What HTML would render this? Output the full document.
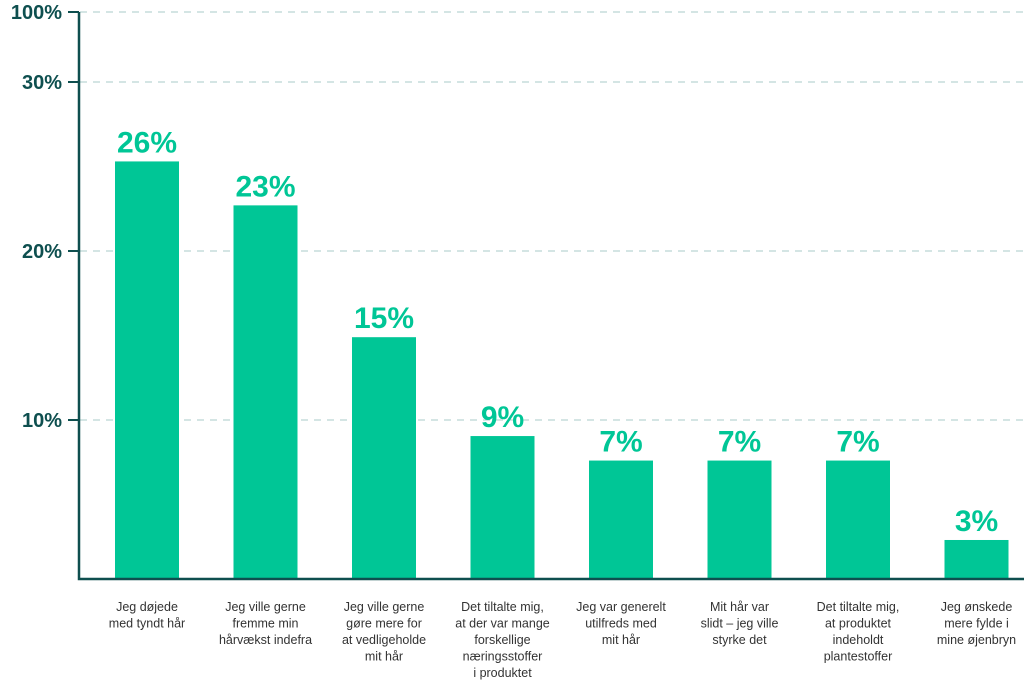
<!DOCTYPE html>
<html><head><meta charset="utf-8"><style>
body{margin:0;background:#fff;width:1024px;height:684px;overflow:hidden}
svg text{font-family:"Liberation Sans",sans-serif}
</style></head><body>
<svg id="c" width="1024" height="684"></svg>
<script>
const categories=[["Jeg døjede","med tyndt hår"],["Jeg ville gerne","fremme min","hårvækst indefra"],["Jeg ville gerne","gøre mere for","at vedligeholde","mit hår"],["Det tiltalte mig,","at der var mange","forskellige","næringsstoffer","i produktet"],["Jeg var generelt","utilfreds med","mit hår"],["Mit hår var","slidt – jeg ville","styrke det"],["Det tiltalte mig,","at produktet","indeholdt","plantestoffer"],["Jeg ønskede","mere fylde i","mine øjenbryn"]];
const values=[25.3,22.7,14.9,9.05,7.6,7.6,7.6,2.9];
const valueLabels=["26%","23%","15%","9%","7%","7%","7%","3%"];
const tickValues=[10,20,30,100];
const tickLabels=["10%","20%","30%","100%"];
const NS="http://www.w3.org/2000/svg";
const svg=document.getElementById('c');
function mk(t,a,p){const e=document.createElementNS(NS,t);for(const k in a)e.setAttribute(k,a[k]);(p||svg).appendChild(e);return e;}
const base=578;
function y(v){return v<=30?589-16.9*v:82-(v-30)*(70/70);}
function x(i){return 115+i*118.5;}
const bw=64;
tickValues.forEach((v,i)=>{
 const g=mk('line',{x1:80,x2:1024,y1:y(v),y2:y(v),stroke:'#a9cbc9','stroke-width':1,'stroke-dasharray':'7,6'});
 
 
 const tk=mk('line',{x1:68,x2:79,y1:y(v),y2:y(v),stroke:'#0e4f4f','stroke-width':2});
 
 
 const t=mk('text',{x:62,y:y(v)+7,'text-anchor':'end','font-size':20,'font-weight':'bold',fill:'#0e4f4f'});
 t.textContent=tickLabels[i];
 
 
});
values.forEach((v,i)=>{
 const top=y(v);
 const r=mk('rect',{x:x(i),y:top,width:bw,height:base-top,fill:'#00c696'});
 
 
 const t=mk('text',{x:x(i)+bw/2,y:top-9,'text-anchor':'middle','font-size':30,'font-weight':'bold',fill:'#00c696'});
 t.textContent=valueLabels[i];
 
 
 const c=mk('text',{'text-anchor':'middle','font-size':12.5,fill:'#333'});
 
 
 categories[i].forEach((l,j)=>{const s=mk('tspan',{x:x(i)+bw/2,y:611+j*16.5},c);s.textContent=l;});
});
const ax=mk('path',{d:'M79 12 V579 H1024',fill:'none',stroke:'#0e4f4f','stroke-width':2.5});


</script>
</body></html>
